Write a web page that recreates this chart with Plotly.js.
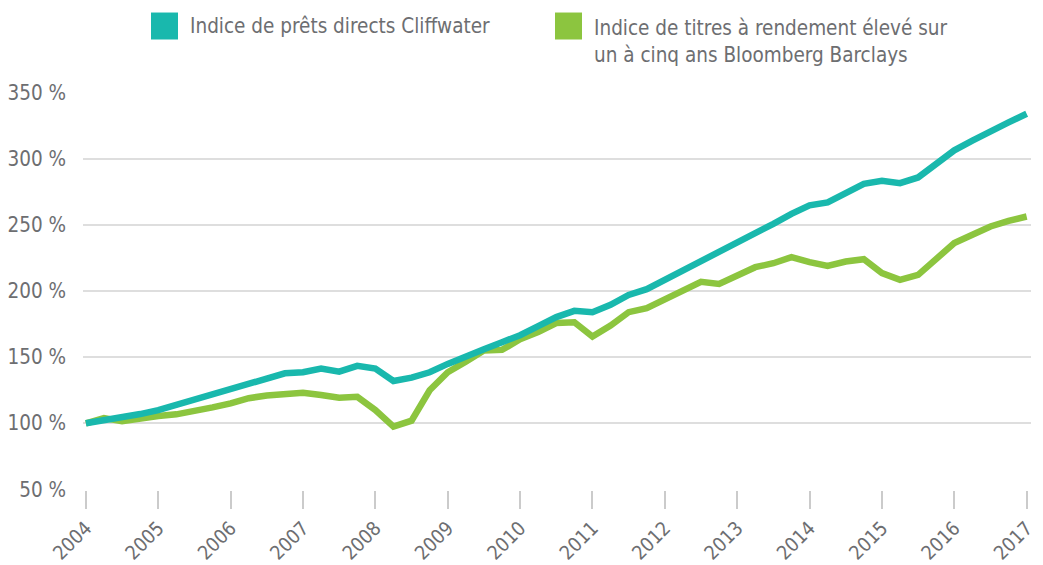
<!DOCTYPE html>
<html>
<head>
<meta charset="utf-8">
<script src="https://cdn.plot.ly/plotly-3.0.1.min.js"></script>
<style>
html,body{margin:0;padding:0;background:#fff;}
#chart{width:1043px;height:565px;}
</style>
</head>
<body>
<div id="chart"></div>
<script>
// Quarterly observation dates (fractional years)
const quarters = [
  2004.00, 2004.25, 2004.50, 2004.75,
  2005.00, 2005.25, 2005.50, 2005.75,
  2006.00, 2006.25, 2006.50, 2006.75,
  2007.00, 2007.25, 2007.50, 2007.75,
  2008.00, 2008.25, 2008.50, 2008.75,
  2009.00, 2009.25, 2009.50, 2009.75,
  2010.00, 2010.25, 2010.50, 2010.75,
  2011.00, 2011.25, 2011.50, 2011.75,
  2012.00, 2012.25, 2012.50, 2012.75,
  2013.00, 2013.25, 2013.50, 2013.75,
  2014.00, 2014.25, 2014.50, 2014.75,
  2015.00, 2015.25, 2015.50, 2015.75,
  2016.00, 2016.25, 2016.50, 2016.75,
  2017.00
];

// Indice de prêts directs Cliffwater (%)
const cliffwater = [
  100, 102, 104.5, 107,
  110, 114, 117.6, 121.4,
  125.7, 129.8, 133.5, 137.8,
  138.6, 141.4, 139, 143.4,
  141.4, 132, 134.5, 138.6,
  144.9, 151, 156, 161.3,
  166.6, 173.4, 180.3, 185,
  184, 189.5, 197, 201.4,
  208.4, 216, 222.8, 229.4,
  235.7, 243.2, 250.8, 258.3,
  264.7, 266.9, 274.5, 281,
  283.3, 281.5, 285.8, 296,
  306.3, 313.6, 321.1, 327.4,
  334
];

// Indice de titres à rendement élevé sur un à cinq ans Bloomberg Barclays (%)
const bloomberg = [
  100, 104, 101.5, 104,
  105.5, 106.8, 110, 112,
  115, 119, 121, 122,
  123, 121.4, 119.4, 120,
  110, 97.5, 102, 125,
  138.6, 146.6, 155, 155.5,
  163.5, 169, 175.8, 176.4,
  165.6, 173.9, 184, 187,
  194, 200, 207, 205.4,
  212.2, 218, 221, 225.6,
  221.8, 219, 222.3, 224,
  213.5, 208.4, 212.2, 224.8,
  236.2, 242.5, 248.8, 253,
  256.3
];

const seriesNames = [
  "Indice de prêts directs Cliffwater",
  "Indice de titres à rendement élevé sur<br>un à cinq ans Bloomberg Barclays"
];

const xTickVals = [2004, 2005, 2006, 2007, 2008, 2009, 2010, 2011, 2012, 2013, 2014, 2015, 2016, 2017];
const xTickText = ["2004", "2005", "2006", "2007", "2008", "2009", "2010", "2011", "2012", "2013", "2014", "2015", "2016", "2017"];
const yTickVals = [50, 100, 150, 200, 250, 300, 350];
const yTickText = ["\u200750 %", "100 %", "150 %", "200 %", "250 %", "300 %", "350 %"];

const colors = ["#19b8ad", "#8cc53f"];
const FONT = "'DejaVu Sans Condensed', 'Liberation Sans Narrow', 'Roboto', sans-serif";
const GREY = "#6d6e71";

const traces = [
  {x: quarters, y: bloomberg, name: seriesNames[1], mode: "lines",
   line: {color: colors[1], width: 6.5}, showlegend: false, hoverinfo: "skip"},
  {x: quarters, y: cliffwater, name: seriesNames[0], mode: "lines",
   line: {color: colors[0], width: 6.5}, showlegend: false, hoverinfo: "skip"}
];

// Custom legend squares (paper coords)
const legendSquares = [
  {x0: 0.0717, x1: 0.1002},
  {x0: 0.4979, x1: 0.5264}
];

const layout = {
  width: 1043, height: 565,
  margin: {l: 83, r: 12, t: 92, b: 75},
  paper_bgcolor: "#ffffff", plot_bgcolor: "#ffffff",
  font: {family: FONT, color: GREY, size: 20},
  showlegend: false,
  xaxis: {
    range: [2003.96, 2017.06],
    tickvals: xTickVals, ticktext: xTickText,
    tickangle: -45,
    ticks: "outside", ticklen: 18, tickwidth: 2, tickcolor: "#cbcbcb",
    showgrid: false, zeroline: false, showline: false,
    tickfont: {family: FONT, size: 19.5, color: GREY}
  },
  yaxis: {
    range: [49.6, 350.4],
    tickvals: yTickVals, ticktext: yTickText,
    ticks: "", showline: false, zeroline: false,
    gridcolor: "#dedede", gridwidth: 2,
    ticklabelstandoff: 16,
    tickfont: {family: FONT, size: 20.5, color: GREY}
  },
  shapes: legendSquares.map((s, i) => ({
    type: "rect", xref: "paper", yref: "paper",
    x0: s.x0, x1: s.x1, y0: 1.1319, y1: 1.1997,
    fillcolor: colors[i], line: {width: 0}
  })),
  annotations: [
    {xref: "paper", yref: "paper", x: 0.1108, y: 1.1646, xanchor: "left", yanchor: "middle",
     text: seriesNames[0], showarrow: false, align: "left",
     font: {family: FONT, size: 20.5, color: GREY}},
    {xref: "paper", yref: "paper", x: 0.5365, y: 1.1281, xanchor: "left", yanchor: "middle",
     text: seriesNames[1], showarrow: false, align: "left",
     font: {family: FONT, size: 20.5, color: GREY}}
  ]
};

Plotly.newPlot("chart", traces, layout, {displayModeBar: false, staticPlot: true});
</script>
</body>
</html>
